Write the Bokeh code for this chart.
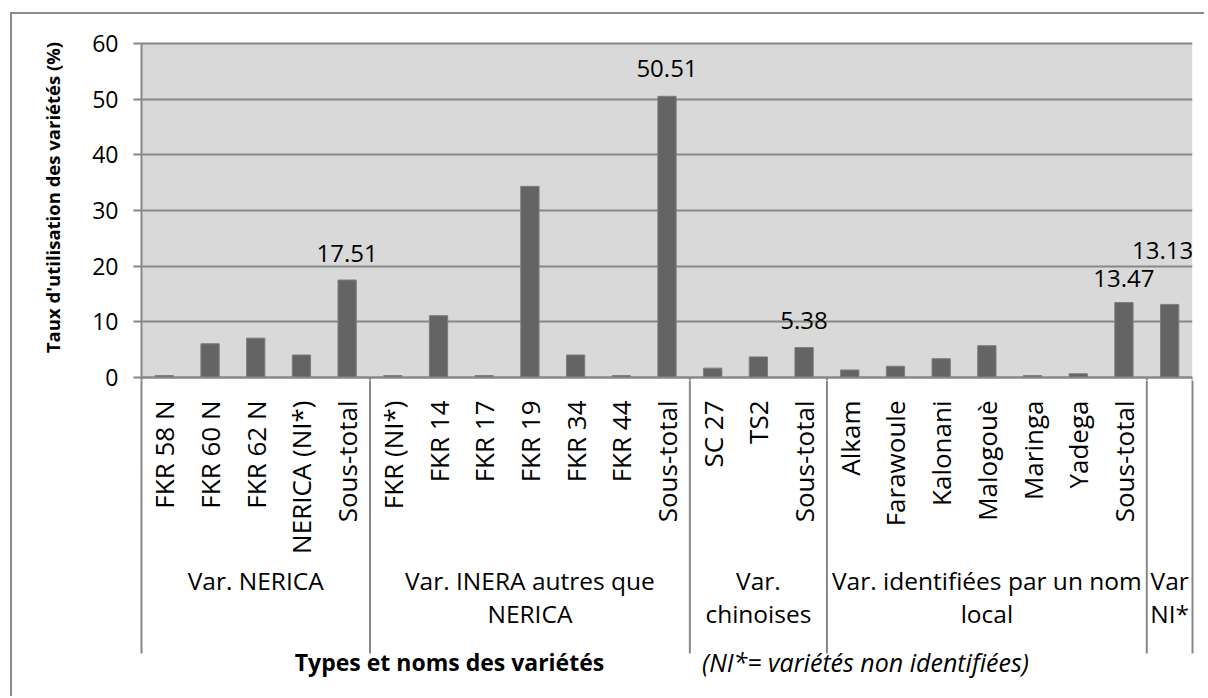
import math
from bokeh.plotting import figure
from bokeh.layouts import column
from bokeh.models import (ColumnDataSource, FactorRange, LabelSet, Span, BoxAnnotation,
                          FixedTicker, Range1d)
from bokeh.core.properties import value
from bokeh.embed import file_html
from bokeh.resources import INLINE

# ---------------- data ----------------
groups = ["Var. NERICA", "Var. INERA autres que NERICA", "Var. chinoises",
          "Var. identifiées par un nom local", "Var NI*"]
group_labels = ["Var. NERICA", "Var. INERA autres que\nNERICA", "Var.\nchinoises",
                "Var. identifiées par un nom\nlocal", "Var\nNI*"]
varieties = [
    ["FKR 58 N", "FKR 60 N", "FKR 62 N", "NERICA (NI*)", "Sous-total"],
    ["FKR (NI*)", "FKR 14", "FKR 17", "FKR 19", "FKR 34", "FKR 44", "Sous-total"],
    ["SC 27", "TS2", "Sous-total"],
    ["Alkam", "Farawoule", "Kalonani", "Malogouè", "Maringa", "Yadega", "Sous-total"],
    [""],
]
values = [
    [0.34, 6.06, 7.07, 4.04, 17.51],
    [0.34, 11.11, 0.34, 34.34, 4.04, 0.34, 50.51],
    [1.68, 3.70, 5.38],
    [1.35, 2.02, 3.37, 5.72, 0.34, 0.67, 13.47],
    [13.13],
]
y_ticks = [0, 10, 20, 30, 40, 50, 60]
y_title = "Taux d'utilisation des variétés (%)"
x_title = "Types et noms des variétés"
note = "(NI*= variétés non identifiées)"

# ---------------- styles / layout ----------------
FONT = value("Open Sans")
GRID = "#878787"
BAR = "#646464"
BG = "#d9d9d9"
label_lift = [27, 28, 27, 24, 54]     # px above bar top for value labels
label_shift = [0, 0, 0, 0, -7]        # px horizontal nudge for value labels

W = 1192
LEFT, RIGHT = 129, 12
PLOT_H = 334                          # px for 0..60
PPU = PLOT_H / 60.0
TOP_PAD, BOT_PAD = 29, 3              # px of frame above 60 / below 0
A_BOTTOM = 12                         # canvas below the frame (room for the "0" label)
H_A = TOP_PAD + PLOT_H + BOT_PAD + A_BOTTOM
H_B = 316

factors = [(g, v) for g, vs in zip(groups, varieties) for v in vs]
flat_vals = [x for vs in values for x in vs]
names = [v for vs in varieties for v in vs]
n_cat = len(factors)
UNIT = (W - LEFT - RIGHT) / n_cat     # px per category

src = ColumnDataSource(dict(x=factors, top=flat_vals))

mask = [(v == "Sous-total" or g == groups[-1]) for g, v in factors]
lab_src = ColumnDataSource(dict(
    x=[f for f, m in zip(factors, mask) if m],
    y=[t for t, m in zip(flat_vals, mask) if m],
    text=["%.2f" % t for t, m in zip(flat_vals, mask) if m],
    off=label_lift, dx=label_shift,
))

bounds = [0]
for vs in varieties:
    bounds.append(bounds[-1] + len(vs))
centers = [(a + b) / 2 for a, b in zip(bounds[:-1], bounds[1:])]

# ---------------- chart (figure A) ----------------
y_lo = -BOT_PAD / PPU
pa = figure(
    x_range=FactorRange(*factors, factor_padding=0, group_padding=0,
                        subgroup_padding=0, range_padding=0),
    y_range=Range1d(y_lo, 60 + TOP_PAD / PPU),
    width=W, height=H_A,
    output_backend="svg", toolbar_location=None,
    min_border_left=LEFT, min_border_top=0, min_border_right=RIGHT,
    min_border_bottom=A_BOTTOM,
    background_fill_color="white", border_fill_color="white",
    outline_line_color=None,
)
pa.frame_align = False
pa.xaxis.visible = False
pa.add_layout(BoxAnnotation(bottom=0, top=60, fill_color=BG, fill_alpha=1,
                            line_color=None, level="image"))

pa.vbar(x="x", top="top", width=0.4, source=src,
        fill_color=BAR, line_color="#7d7d7d", line_width=1)

pa.xgrid.visible = False
pa.ygrid.ticker = FixedTicker(ticks=y_ticks)
pa.ygrid.grid_line_color = GRID
pa.ygrid.grid_line_width = 2

pa.yaxis.ticker = FixedTicker(ticks=y_ticks)
pa.yaxis.bounds = (y_lo, 60)
pa.yaxis.axis_label = y_title
pa.yaxis.axis_label_text_font = "Open Sans"
pa.yaxis.axis_label_text_font_style = "bold"
pa.yaxis.axis_label_text_font_size = "18.5px"
pa.yaxis.axis_label_text_color = "black"
pa.yaxis.axis_label_standoff = 24
pa.yaxis.major_label_text_font = "Open Sans"
pa.yaxis.major_label_text_font_size = "23px"
pa.yaxis.major_label_text_color = "black"
pa.yaxis.major_label_standoff = 15
pa.yaxis.major_tick_in = 0
pa.yaxis.major_tick_out = 8
pa.yaxis.major_tick_line_color = GRID
pa.yaxis.major_tick_line_width = 2
pa.yaxis.minor_tick_line_color = None
pa.yaxis.axis_line_color = GRID
pa.yaxis.axis_line_width = 2

# baseline over the bars, and start of the separators
pa.add_layout(Span(location=0, dimension="width", line_color=GRID, line_width=2))
pa.segment(x0=bounds, y0=[0] * len(bounds), x1=bounds,
           y1=[y_lo] * len(bounds), line_color=GRID, line_width=2)

pa.add_layout(LabelSet(x="x", y="y", text="text", source=lab_src,
                       y_offset="off", x_offset="dx",
                       text_align="center", text_baseline="middle",
                       text_font=FONT, text_font_size="24px", text_color="black"))

# ---------------- category axis area (figure B) ----------------
pb = figure(
    x_range=Range1d(-LEFT / UNIT, n_cat + RIGHT / UNIT),
    y_range=Range1d(H_B, 0),
    width=W, height=H_B,
    output_backend="svg", toolbar_location=None,
    min_border=0, x_axis_type=None, y_axis_type=None,
    background_fill_alpha=0, border_fill_alpha=0,
    outline_line_color=None,
)
pb.frame_align = False
pb.styles = {"margin-top": "-%dpx" % A_BOTTOM}
pb.xgrid.visible = False
pb.ygrid.visible = False

# separators
pb.segment(x0=bounds, y0=[0] * len(bounds), x1=bounds, y1=[273] * len(bounds),
           line_color=GRID, line_width=2)

# variety labels (vertical)
pb.text(x=[i + 0.5 for i in range(n_cat)], y=[20] * n_cat, text=names,
        angle=math.pi / 2, text_align="right", text_baseline="middle",
        text_font=FONT, text_font_size="26px", text_color="black")

# group labels
pb.text(x=centers, y=[183] * len(centers), text=group_labels,
        text_align="center", text_baseline="top", text_line_height=1.0,
        text_font=FONT, text_font_size="24.5px", text_color="black")

# axis title and note
pb.text(x=[(449 - 141) / UNIT], y=[281.7], text=[x_title],
        text_align="center", text_baseline="alphabetic",
        text_font=FONT, text_font_style="bold", text_font_size="23px", text_color="black")
pb.text(x=[(701.6 - 141) / UNIT], y=[281.7], text=[note],
        text_align="left", text_baseline="alphabetic",
        text_font=FONT, text_font_style="italic", text_font_size="25px", text_color="black")

layout = column(pa, pb, spacing=0)
layout.styles = {"margin-left": "10px", "margin-top": "12px",
                 "border-left": "2px solid #8c8c8c", "border-top": "2px solid #8c8c8c"}

open("out.html", "w").write(file_html(layout, INLINE))
